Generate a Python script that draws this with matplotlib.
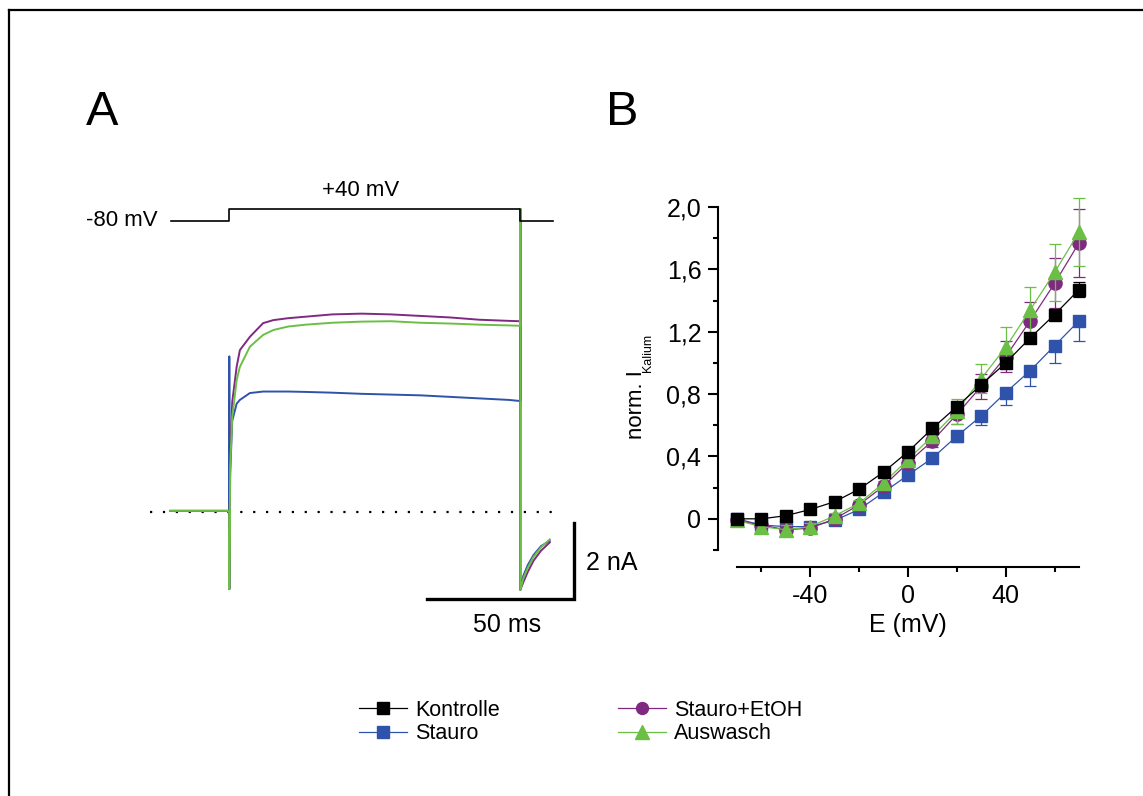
import matplotlib
matplotlib.use("Agg")
import matplotlib.pyplot as plt
from matplotlib.ticker import MultipleLocator, FuncFormatter
from matplotlib.lines import Line2D
import numpy as np

plt.rcParams['font.family'] = ['Liberation Sans', 'DejaVu Sans']
plt.rcParams['axes.unicode_minus'] = False

# colours
c_kon = 'black'
c_sta = '#2F52AA'
c_eto = '#7F2A80'
c_aus = '#6CBF45'

# ---- panel A: example current traces (ms, nA)
t_trace = [-20, 0, 0, 0, 0.3, 1, 2.5, 3.6, 7, 11.5, 15, 20, 26, 35, 45, 55, 65, 75,
           85, 95, 99, 99, 99, 100, 101.5, 103.5, 106, 109]
i_eto = [0.03, 0.03, -2.03, -2.03, 1.5, 2.9, 3.82, 4.26, 4.61, 4.97, 5.05, 5.10, 5.14,
         5.20, 5.22, 5.20, 5.16, 5.12, 5.06, 5.03, 5.02, 7.97, -2.05, -1.85, -1.58,
         -1.28, -1.02, -0.80]
i_aus = [0.03, 0.03, -2.03, -2.03, 1.2, 2.5, 3.47, 3.82, 4.35, 4.66, 4.79, 4.88, 4.93,
         4.98, 5.01, 5.02, 4.98, 4.96, 4.93, 4.91, 4.90, 7.97, -2.05, -1.75, -1.47,
         -1.18, -0.93, -0.72]
i_sta = [0.03, 0.03, 4.09, -2.03, 1.0, 2.4, 2.85, 2.95, 3.13, 3.17, 3.17, 3.17, 3.16,
         3.14, 3.11, 3.09, 3.07, 3.03, 2.99, 2.95, 2.92, 7.97, -2.05, -1.68, -1.40,
         -1.13, -0.90, -0.76]

# voltage protocol
t_prot = [-20, 0, 0, 99, 99, 110]
v_prot = [-80, -80, 40, 40, -80, -80]

# ---- panel B: normalised IV curves
E = [-70, -60, -50, -40, -30, -20, -10, 0, 10, 20, 30, 40, 50, 60, 70]
kon = [0.0, 0.0, 0.02, 0.06, 0.11, 0.19, 0.30, 0.43, 0.58, 0.72, 0.86, 1.00, 1.16, 1.31, 1.47]
kon_err = [0.01, 0.01, 0.01, 0.01, 0.01, 0.01, 0.01, 0.01, 0.02, 0.02, 0.03, 0.03, 0.03, 0.03, 0.05]
sta = [0.0, -0.04, -0.05, -0.05, -0.01, 0.06, 0.17, 0.28, 0.39, 0.53, 0.66, 0.81, 0.95, 1.11, 1.27]
sta_err = [0.01, 0.01, 0.01, 0.01, 0.01, 0.01, 0.02, 0.02, 0.03, 0.04, 0.06, 0.08, 0.10, 0.11, 0.13]
eto = [-0.01, -0.04, -0.07, -0.06, 0.0, 0.09, 0.21, 0.36, 0.50, 0.67, 0.85, 1.04, 1.27, 1.51, 1.77]
eto_err = [0.01, 0.02, 0.02, 0.02, 0.02, 0.02, 0.03, 0.03, 0.04, 0.06, 0.08, 0.10, 0.12, 0.16, 0.22]
aus = [-0.01, -0.05, -0.07, -0.05, 0.02, 0.10, 0.23, 0.38, 0.53, 0.69, 0.90, 1.10, 1.34, 1.58, 1.84]
aus_err = [0.01, 0.03, 0.03, 0.02, 0.02, 0.02, 0.03, 0.03, 0.04, 0.08, 0.09, 0.13, 0.15, 0.18, 0.22]

W, H = 1143, 796
fig = plt.figure(figsize=(W / 100, H / 100), dpi=100)

def fx(px):
    return px / W

def fy(py):
    return 1 - py / H

# frame (only top and left visible)
fig.add_artist(Line2D([fx(9), fx(9)], [fy(10), fy(800)], color='black', lw=1.6))
fig.add_artist(Line2D([fx(9), fx(1150)], [fy(10), fy(10)], color='black', lw=1.6))

# ---------- panel A
axA = fig.add_axes([fx(141.1), fy(626), fx(441), 456 / H])
axA.set_xlim(-30, 120)
axA.set_ylim(-3, 9)
axA.axis('off')
axA.plot([-27, 111.5], [0, 0], color='black', lw=1.6, ls=(0, (1, 4.8)))
axA.plot(t_trace, i_sta, color=c_sta, lw=1.4)
axA.plot(t_trace, i_eto, color=c_eto, lw=1.4)
axA.plot(t_trace, i_aus, color=c_aus, lw=1.4)
# scale bars
axA.plot([67.2, 117.2, 117.2], [-2.29, -2.29, -0.29], color='black', lw=2.4,
         solid_joinstyle='miter', clip_on=False)
axA.text(94.5, -2.97, '50 ms', ha='center', va='center', fontsize=18)
axA.text(121.4, -1.34, '2 nA', ha='left', va='center', fontsize=18, clip_on=False)

axV = fig.add_axes([fx(141.1), fy(240), fx(441), 60 / H])
axV.set_xlim(-30, 120)
axV.set_ylim(-270, 330)
axV.axis('off')
axV.plot(t_prot, v_prot, color='black', lw=1.2)
axV.text(-24.3, -70, '-80 mV', ha='right', va='center', fontsize=16)
axV.text(44.5, 230, '+40 mV', ha='center', va='center', fontsize=16)

fig.text(fx(86), fy(125), 'A', fontsize=35, ha='left', va='baseline')
fig.text(fx(606), fy(125), 'B', fontsize=35, ha='left', va='baseline')

# ---------- panel B
axB = fig.add_axes([fx(737), fy(550), fx(342), 343 / H])
axB.set_xlim(-70, 70)
axB.set_ylim(-0.2, 2.0)

series = [
    ('Stauro', sta, [sta_err, [0] * len(sta_err)], c_sta, 's', 9, 2),
    ('Stauro+EtOH', eto, eto_err, c_eto, 'o', 9.5, 3),
    ('Auswasch', aus, aus_err, c_aus, '^', 10.5, 4),
    ('Kontrolle', kon, kon_err, c_kon, 's', 9, 5),
]
handles = {}
for name, vals, err, col, mk, ms, z in series:
    axB.errorbar(E, vals, yerr=err, color=col, ecolor=col, elinewidth=0.9,
                 capsize=4, capthick=0.9, lw=0.9, marker=mk, ms=ms, mec=col,
                 mfc=col, zorder=z, clip_on=False)
    handles[name] = Line2D([], [], color=col, lw=0.9, marker=mk, ms=ms * 0.9,
                           mec=col, mfc=col)

for s in ['top', 'right']:
    axB.spines[s].set_visible(False)
axB.spines['left'].set_position(('outward', 13.7))
axB.spines['bottom'].set_position(('outward', 12.2))
for s in ['left', 'bottom']:
    axB.spines[s].set_linewidth(1.5)
axB.xaxis.set_minor_locator(MultipleLocator(20))
axB.set_xticks([-40, 0, 40])
axB.yaxis.set_major_locator(MultipleLocator(0.4))
axB.yaxis.set_minor_locator(MultipleLocator(0.2))
axB.yaxis.set_major_formatter(FuncFormatter(
    lambda v, p: '0' if abs(v) < 1e-9 else f'{v:.1f}'.replace('.', ',')))
axB.tick_params(which='major', length=7, width=1.5, labelsize=18, pad=5)
axB.tick_params(which='minor', length=3.6, width=1.5)
axB.set_xlabel('E (mV)', fontsize=18, labelpad=4)

# y label with small subscript
fig.text(fx(636), fy(405), 'norm. I', rotation=90, fontsize=16,
         ha='center', va='center')
fig.text(fx(648), fy(353), 'Kalium', rotation=90, fontsize=9,
         ha='center', va='center')

order = ['Kontrolle', 'Stauro', 'Stauro+EtOH', 'Auswasch']
fig.legend([handles[n] for n in order], order, ncol=2, frameon=False,
           loc='center', bbox_to_anchor=(fx(581), fy(722)), fontsize=15.5,
           handlelength=2.2, handletextpad=0.4, columnspacing=5.5,
           labelspacing=0.1, borderpad=0)

fig.savefig('out.png', dpi=100)
